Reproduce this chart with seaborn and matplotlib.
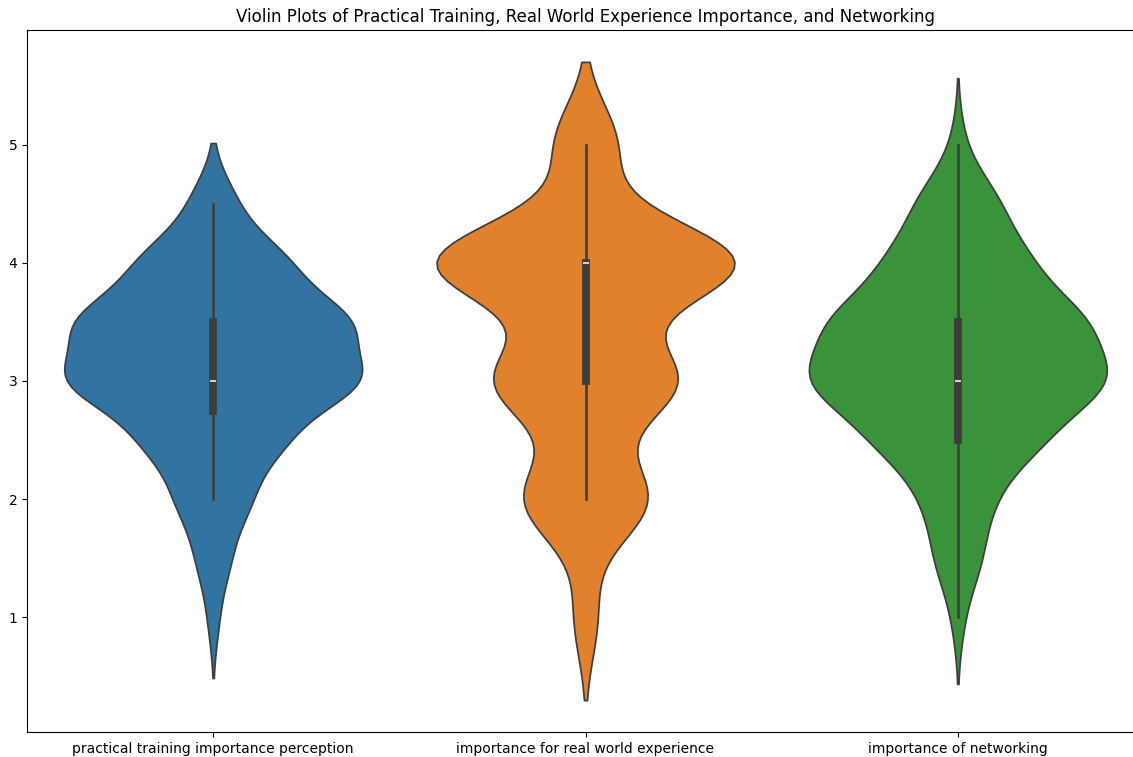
import numpy as np
import pandas as pd
import matplotlib
matplotlib.use("Agg")
import matplotlib.pyplot as plt
import seaborn as sns

# Survey responses: each answer value and how many respondents gave it
categories = [
    "practical training importance perception",
    "importance for real world experience",
    "importance of networking",
]

practical_values = [1.0, 1.5, 2.0, 2.5, 3.0, 3.5, 4.0, 4.5]
practical_counts = [2, 6, 13, 24, 52, 48, 26, 8]

experience_values = [1, 2, 3, 4, 5]
experience_counts = [6, 32, 47, 78, 16]

networking_values = [1.0, 1.5, 2.0, 2.5, 3.0, 3.5, 4.0, 4.5, 5.0]
networking_counts = [2, 8, 11, 27, 50, 42, 23, 14, 2]

colors = ["#1f77b4", "#ff7f0e", "#2ca02c"]

# Long-form table built from the value/count lists
frames = []
for name, vals, cnts in [
    (categories[0], practical_values, practical_counts),
    (categories[1], experience_values, experience_counts),
    (categories[2], networking_values, networking_counts),
]:
    frames.append(pd.DataFrame({
        "variable": name,
        "value": np.repeat(np.asarray(vals, dtype=float), cnts),
    }))
df = pd.concat(frames, ignore_index=True)

fig = plt.figure(figsize=(11.33, 7.57), dpi=100)
ax = fig.add_axes([27 / 1133, 25 / 757, 1117 / 1133, 702 / 757])

sns.violinplot(
    data=df, x="variable", y="value", hue="variable",
    order=categories, hue_order=categories, palette=colors,
    density_norm="width", legend=False, ax=ax,
)

ax.set_title("Violin Plots of Practical Training, Real World Experience Importance, and Networking",
             fontsize=12)
ax.set_xlabel("")
ax.set_ylabel("")

fig.savefig("out.png", dpi=100)
